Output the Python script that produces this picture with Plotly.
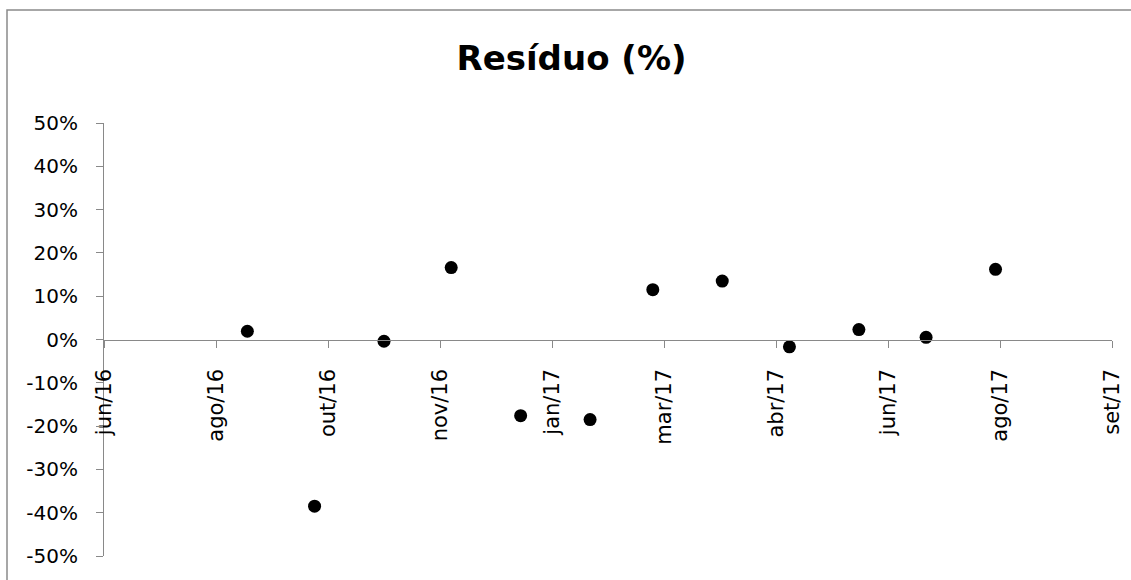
import plotly.graph_objects as go

# ---- data ----
dates = ["2016-08-31", "2016-09-30", "2016-10-31", "2016-11-30", "2016-12-31", "2017-01-31",
         "2017-02-28", "2017-03-31", "2017-04-30", "2017-05-31", "2017-06-30", "2017-07-31"]
residuo = [0.019, -0.385, -0.004, 0.166, -0.176, -0.185,
           0.115, 0.135, -0.017, 0.023, 0.005, 0.162]

x_range = ["2016-06-28", "2017-09-21"]
x_tick_dates = ["2016-06-28", "2016-08-17", "2016-10-06", "2016-11-25", "2017-01-14",
                "2017-03-05", "2017-04-24", "2017-06-13", "2017-08-02", "2017-09-21"]
x_tick_labels = ["jun/16", "ago/16", "out/16", "nov/16", "jan/17",
                 "mar/17", "abr/17", "jun/17", "ago/17", "set/17"]

y_range = [-0.5, 0.5]
y_tick_vals = [-0.5, -0.4, -0.3, -0.2, -0.1, 0.0, 0.1, 0.2, 0.3, 0.4, 0.5]
y_tick_labels = ["-50%", "-40%", "-30%", "-20%", "-10%", "0%",
                 "10%", "20%", "30%", "40%", "50%"]

title_text = "Resíduo (%)"

# ---- figure ----
W, H = 1131, 580
ml, mr, mt, mb = 104, 19, 123, 24
pw, ph = W - ml - mr, H - mt - mb

axis_color = "#898989"
font_family = "DejaVu Sans"

fig = go.Figure()
fig.add_trace(go.Scatter(
    x=dates, y=residuo, mode="markers",
    marker=dict(size=13, color="black", line=dict(width=0)),
    showlegend=False, cliponaxis=False,
))

# chart-area border (Excel style), partly cut off on right / bottom
fig.add_shape(type="rect", xref="paper", yref="paper",
              x0=(7 - ml) / pw, x1=(W + 10 - ml) / pw,
              y0=(H - mb - (H + 10)) / ph, y1=(H - mb - 10) / ph,
              line=dict(color="#8a8a8a", width=1.5), layer="below")

fig.update_layout(
    width=W, height=H,
    margin=dict(l=ml, r=mr, t=mt, b=mb, autoexpand=False),
    paper_bgcolor="white", plot_bgcolor="white",
    font=dict(family=font_family, color="black", size=20),
    title=dict(text="<b>" + title_text + "</b>", xref="container", yref="container",
               x=571.5 / W, xanchor="center", y=1 - 58 / H, yanchor="middle",
               font=dict(family=font_family, size=34, color="black")),
    xaxis=dict(
        type="date", range=x_range,
        tickmode="array", tickvals=x_tick_dates, ticktext=x_tick_labels,
        tickangle=-90, ticks="outside", ticklen=7, tickcolor=axis_color, tickwidth=1,
        showline=True, linecolor=axis_color, linewidth=1,
        showgrid=False, zeroline=False,
        anchor="free", position=0.5,
        ticklabelstandoff=13,
        tickfont=dict(size=21, family=font_family, color="black"),
    ),
    yaxis=dict(
        range=y_range, tickmode="array", tickvals=y_tick_vals, ticktext=y_tick_labels,
        ticks="outside", ticklen=7, tickcolor=axis_color, tickwidth=1,
        showline=True, linecolor=axis_color, linewidth=1,
        showgrid=False, zeroline=False,
        ticklabelstandoff=14,
        tickfont=dict(size=20, family=font_family, color="black"),
    ),
)

fig.write_html("out.html")
